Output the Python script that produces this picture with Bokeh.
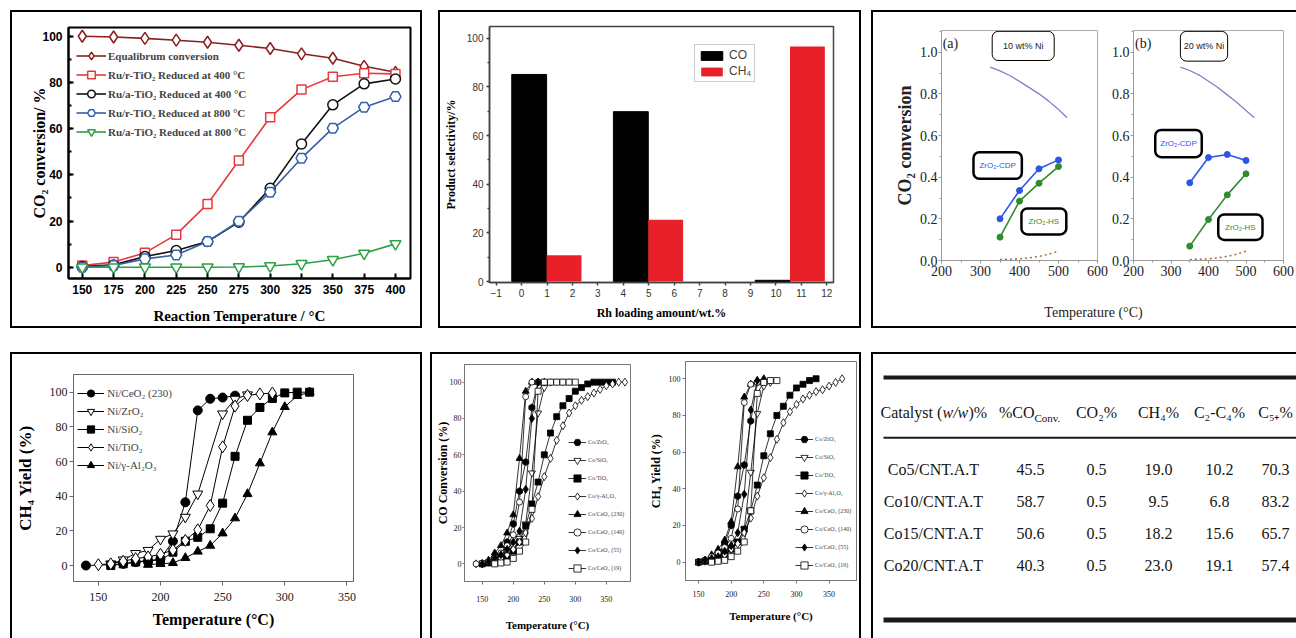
import numpy as np
from bokeh.plotting import figure
from bokeh.models import (Range1d, Legend, LegendItem, BoxAnnotation, Label, Spacer,
                          FixedTicker, SingleIntervalTicker, PrintfTickFormatter, Row, Column)
from bokeh.core.properties import value
from bokeh.embed import file_html
from bokeh.resources import INLINE

SERIF = "Liberation Serif"
SANS = "Liberation Sans"

# ---------------- data: panel 1 ----------------
p1_temp = [150, 175, 200, 225, 250, 275, 300, 325, 350, 375, 400]
p1_eq = [100.0, 99.7, 99.1, 98.3, 97.4, 96.1, 94.7, 92.4, 90.5, 87.0, 84.4]
p1_rr400 = [0.7, 2.2, 6.2, 14.1, 27.4, 46.2, 64.9, 76.9, 82.5, 84.0, 83.7]
p1_ra400 = [0.3, 1.0, 4.6, 7.2, 11.1, 19.5, 34.2, 53.4, 70.3, 79.4, 81.5]
p1_rr800 = [0.0, 0.7, 3.6, 5.3, 11.1, 19.9, 32.5, 47.2, 60.2, 69.3, 73.9]
p1_ra800 = [0.0, 0.0, 0.0, 0.0, 0.0, 0.1, 0.5, 1.5, 3.2, 6.0, 10.1]
p1_labels = ["Equalibrum conversion", "Ru/r-TiO₂ Reduced at 400 °C", "Ru/a-TiO₂ Reduced at 400 °C",
             "Ru/r-TiO₂ Reduced at 800 °C", "Ru/a-TiO₂ Reduced at 800 °C"]

# ---------------- data: panel 2 ----------------
p2_pos = [0.985, 4.98, 10.55]
p2_co = [85.1, 69.8, 0.5]
p2_ch4 = [10.8, 25.4, 96.6]
p2_xticks = list(range(-1, 13))

# ---------------- data: panel 3 ----------------
p3_eq_T = [325, 350, 375, 400, 425, 450, 475, 500, 522]
p3a_eq = [0.928, 0.91, 0.888, 0.86, 0.83, 0.80, 0.765, 0.725, 0.685]
p3b_eq = [0.928, 0.912, 0.89, 0.86, 0.83, 0.795, 0.76, 0.72, 0.685]
p3_T = [350, 400, 450, 500]
p3a_cdp = [0.20, 0.336, 0.44, 0.483]
p3a_hs = [0.112, 0.285, 0.371, 0.451]
p3b_cdp = [0.373, 0.494, 0.509, 0.48]
p3b_hs = [0.069, 0.197, 0.315, 0.416]
p3_dot_T = [350, 375, 400, 425, 450, 475, 500]
p3_dot = [0.005, 0.006, 0.008, 0.013, 0.02, 0.03, 0.045]

# ---------------- data: panel 4 ----------------
p4_ce_T = [140, 160, 170, 180, 190, 200, 210, 220, 230, 240, 250, 260]
p4_ce = [0, 0.5, 1, 2, 2.5, 4, 14, 36.5, 89.5, 96.2, 96.9, 98]
p4_zr_T = [160, 170, 180, 190, 200, 210, 220, 230, 250, 260, 270]
p4_zr = [1, 3.3, 7, 8.8, 15.2, 18.3, 27.9, 41.3, 87.5, 96, 98.5]
p4_si_T = [160, 170, 180, 190, 200, 210, 220, 230, 240, 250, 260, 270, 280, 290, 300, 310, 320]
p4_si = [0, 1, 2, 3, 3, 7.7, 14, 16.3, 21.2, 36, 63, 83.8, 91.2, 96.4, 99.6, 100, 100]
p4_ti_T = [150, 160, 170, 180, 190, 200, 210, 220, 230, 240, 250, 260, 270, 280, 290]
p4_ti = [0.5, 1, 2.5, 4, 5, 6.5, 9, 14.5, 20.6, 34.6, 68.5, 92, 98.1, 99, 99.5]
p4_al_T = [190, 200, 210, 220, 230, 240, 250, 260, 270, 280, 290, 300, 310, 320]
p4_al = [0.5, 1, 1.5, 4.4, 8.1, 11.5, 18.6, 27.3, 41.3, 59, 76.9, 91.5, 97.9, 100]

# ---------------- data: panel 5 ----------------
p5_labels = ["Co/ZrO₂", "Co/SiO₂", "Co/TiO₂", "Co/γ-Al₂O₃", "Co/CeO₂ (230)",
             "Co/CeO₂ (140)", "Co/CeO₂ (55)", "Co/CeO₂ (19)"]
# CO conversion
p5a_zr_T = [150, 160, 170, 180, 190, 200, 210, 220, 230, 240]
p5a_zr = [0, 1, 3, 5, 12, 22, 40, 56, 86, 100]
p5a_si_T = [160, 170, 180, 190, 200, 210, 220, 230, 240, 250, 260]
p5a_si = [1, 3, 5, 7, 10, 14, 22, 50, 83, 97, 100]
p5a_ti_T = [150, 160, 170, 180, 190, 200, 210, 220, 230, 240, 250, 260, 270, 280, 290, 300, 310, 320, 330, 340, 350, 360]
p5a_ti = [0, 0.5, 1, 2, 4, 7, 12, 21, 33, 45, 60, 72, 81, 87, 91, 95, 97, 99, 100, 100, 100, 100]
p5a_al_T = [140, 150, 160, 170, 180, 190, 200, 210, 220, 230, 240, 250, 260, 270, 280, 290, 300, 310, 320, 330, 340, 350, 360, 370, 380]
p5a_al = [0, 0, 1, 2, 3, 5, 8, 12, 17, 25, 37, 48, 58, 68, 76, 83, 87, 90, 92, 94, 96, 98, 99, 100, 100]
p5a_c230_T = [150, 160, 170, 180, 190, 200, 210, 220, 230, 240]
p5a_c230 = [0, 2, 6, 10, 17, 27, 58, 95, 100, 100]
p5a_c140_T = [140, 150, 160, 170, 180, 190, 200, 210, 220, 230, 240, 250, 260, 270, 280, 290]
p5a_c140 = [0, 0.5, 1, 3, 6, 10, 16, 34, 92, 100, 100, 100, 100, 100, 100, 100]
p5a_c55_T = [150, 160, 170, 180, 190, 200, 210, 220, 230, 240, 250]
p5a_c55 = [0, 1, 3, 5, 8, 12, 18, 41, 80, 100, 100]
p5a_c19_T = [170, 180, 190, 200, 210, 220, 230, 240, 250, 260, 270, 280, 290, 300]
p5a_c19 = [0, 0.5, 1, 3, 7, 12, 30, 95, 100, 100, 100, 100, 100, 100]
# CH4 yield
p5b_zr_T = [150, 160, 170, 180, 190, 200, 210, 220, 230, 240]
p5b_zr = [0, 1, 2, 4, 10, 20, 36, 53, 77, 98]
p5b_si_T = [160, 170, 180, 190, 200, 210, 220, 230, 240, 250, 260]
p5b_si = [1, 2, 4, 6, 8, 11, 18, 49, 81, 96, 98]
p5b_ti_T = [150, 160, 170, 180, 190, 200, 210, 220, 230, 240, 250, 260, 270, 280, 290, 300, 310, 320, 330]
p5b_ti = [0, 0.5, 1, 2, 4, 7, 11, 18, 28, 42, 58, 70, 80, 85, 91, 95, 97, 99, 100]
p5b_al_T = [150, 160, 170, 180, 190, 200, 210, 220, 230, 240, 250, 260, 270, 280, 290, 300, 310, 320, 330, 340, 350, 360, 370]
p5b_al = [0, 0.5, 1, 2, 4, 7, 10, 16, 24, 36, 46, 57, 67, 76, 82, 86, 89, 91, 93, 94, 96, 98, 100]
p5b_c230_T = [150, 160, 170, 180, 190, 200, 210, 220, 230, 240, 250]
p5b_c230 = [0, 1, 4, 7, 12, 22, 52, 90, 97, 99, 100]
p5b_c140_T = [150, 160, 170, 180, 190, 200, 210, 220, 230, 240, 250, 260]
p5b_c140 = [0, 1, 3, 5, 8, 13, 29, 87, 97, 98, 98, 99]
p5b_c55_T = [150, 160, 170, 180, 190, 200, 210, 220, 230, 240]
p5b_c55 = [0, 1, 2, 3, 6, 9, 16, 37, 83, 99]
p5b_c19_T = [170, 180, 190, 200, 210, 220, 230, 240, 250, 260, 270]
p5b_c19 = [0, 0.5, 1, 3, 6, 11, 28, 92, 98, 99, 99]

# ---------------- data: panel 6 (table) ----------------
tab_catalyst = ["Co5/CNT.A.T", "Co10/CNT.A.T", "Co15/CNT.A.T", "Co20/CNT.A.T"]
tab_coconv = ["45.5", "58.7", "50.6", "40.3"]
tab_co2 = ["0.5", "0.5", "0.5", "0.5"]
tab_ch4 = ["19.0", "9.5", "18.2", "23.0"]
tab_c2c4 = ["10.2", "6.8", "15.6", "19.1"]
tab_c5 = ["70.3", "83.2", "65.7", "57.4"]
tab_head_simple = ["CO₂%", "CH₄%", "C₂-C₄%", "C₅₊%"]


def bstyle(t=2, r=2, b=2, l=2):
    return {"border-style": "solid", "border-color": "black",
            "border-width": f"{t}px {r}px {b}px {l}px", "box-sizing": "content-box"}


def wrap(p, **kw):
    return Column(children=[p], **kw)


def mkfig(w, h, xr, yr, lb, rb, tb, bb):
    p = figure(width=w, height=h, x_range=Range1d(*xr), y_range=Range1d(*yr),
               output_backend="svg", toolbar_location=None,
               min_border_left=lb, min_border_right=rb, min_border_top=tb, min_border_bottom=bb)
    p.xgrid.visible = False
    p.ygrid.visible = False
    p.background_fill_color = "white"
    p.border_fill_color = "white"
    return p


def style_axis(ax, font, size, color="black", bold=False, tick_in=0, tick_out=4,
               minor_in=0, minor_out=0, standoff=4, line_color="black", line_width=1):
    ax.major_label_text_font = font
    ax.major_label_text_font_size = f"{size}px"
    ax.major_label_text_color = color
    ax.major_label_text_font_style = "bold" if bold else "normal"
    ax.major_tick_in = tick_in
    ax.major_tick_out = tick_out
    ax.minor_tick_in = minor_in
    ax.minor_tick_out = minor_out
    ax.major_label_standoff = standoff
    ax.axis_line_color = line_color
    ax.axis_line_width = line_width
    ax.major_tick_line_color = line_color
    ax.minor_tick_line_color = line_color
    ax.major_tick_line_width = line_width
    ax.minor_tick_line_width = line_width


def set_label(ax, text, font, size, bold, standoff, color="black"):
    ax.axis_label = text
    ax.axis_label_text_font = font
    ax.axis_label_text_font_size = f"{size}px"
    ax.axis_label_text_font_style = "bold" if bold else "normal"
    ax.axis_label_standoff = standoff
    ax.axis_label_text_color = color


# ======================= Panel 1 =======================
p1 = mkfig(408, 314, (139, 412), (-4.9, 103.8), 56, 10, 15, 48)
p1.outline_line_color = "black"
p1.outline_line_width = 2
p1.xaxis.ticker = FixedTicker(ticks=p1_temp)
p1.yaxis.ticker = SingleIntervalTicker(interval=20, num_minor_ticks=2)
style_axis(p1.xaxis[0], SANS, 12, bold=True, tick_in=5, tick_out=0, standoff=6, line_width=2)
style_axis(p1.yaxis[0], SANS, 12, bold=True, tick_in=5, tick_out=0, minor_in=3, standoff=6, line_width=2)
set_label(p1.xaxis[0], "Reaction Temperature / °C", SERIF, 15, True, 11)
set_label(p1.yaxis[0], "CO₂ conversion/ %", SERIF, 16, True, -9)

p1_series = [(p1_eq, "#8B1E1E", "diamond", 12), (p1_rr400, "#E8383D", "square", 9),
             (p1_ra400, "#111111", "circle", 10), (p1_rr800, "#3560A8", "hex", 11),
             (p1_ra800, "#2E9E47", "inverted_triangle", 11)]
items = []
for (vals, col, mk, sz), lab in zip(p1_series, p1_labels):
    l = p1.line(p1_temp, vals, line_color=col, line_width=1.6)
    s = p1.scatter(p1_temp, vals, marker=mk, size=sz, line_color=col, fill_color="white", line_width=1.5)
    items.append(LegendItem(label=lab, renderers=[l, s]))
lg1 = Legend(items=items, location=(8, 136.8), glyph_width=30, glyph_height=19, label_height=19,
             spacing=0, padding=5, margin=0, label_standoff=2, border_line_color=None,
             background_fill_alpha=0, label_text_font=SERIF, label_text_font_style="bold",
             label_text_font_size="11px")
p1.add_layout(lg1)
P1 = wrap(p1, styles=bstyle())

# ======================= Panel 2 =======================
p2 = mkfig(419, 314, (-1.26, 12.26), (-0.4, 104.8), 48, 26, 14, 44)
p2.outline_line_color = "#444444"
p2.outline_line_width = 1.5
p2.xaxis.ticker = FixedTicker(ticks=p2_xticks)
p2.yaxis.ticker = SingleIntervalTicker(interval=20, num_minor_ticks=2)
style_axis(p2.xaxis[0], SANS, 10, color="#333333", tick_out=3, standoff=3, line_color="#444444", line_width=1.5)
style_axis(p2.yaxis[0], SANS, 10, color="#333333", tick_out=3, minor_out=2, standoff=3, line_color="#444444", line_width=1.5)
set_label(p2.xaxis[0], "Rh loading amount/wt.%", SERIF, 12, True, 6)
set_label(p2.yaxis[0], "Product selectivity/%", SERIF, 12, True, 6)
bw = 1.37
r_co = p2.vbar(x=[c - bw / 2 for c in p2_pos], top=p2_co, width=bw, fill_color="black", line_color="black")
r_ch = p2.vbar(x=[c + bw / 2 for c in p2_pos], top=p2_ch4, width=bw, fill_color="#E8202A", line_color=None)
lg2 = Legend(items=[LegendItem(label="CO", renderers=[r_co]), LegendItem(label="CH₄", renderers=[r_ch])],
             location=(205, 200), glyph_width=27, glyph_height=11, label_height=13, spacing=2,
             padding=3, margin=0, label_standoff=4, border_line_color="#999999", border_line_width=1,
             background_fill_color="white", label_text_font=SANS, label_text_font_size="12px")
p2.add_layout(lg2)
P2 = wrap(p2, styles=bstyle())

# ======================= Panel 3 =======================
def p3_sub(w, lb, rb, eq, cdp, hs, ylab, tag, boxes):
    p = mkfig(w, 284, (200, 600), (0, 1.104), lb, rb, 18, 36)
    p.outline_line_color = "#aaaaaa"
    p.xaxis.ticker = SingleIntervalTicker(interval=100, num_minor_ticks=2)
    p.yaxis.ticker = SingleIntervalTicker(interval=0.2, num_minor_ticks=2)
    p.yaxis.formatter = PrintfTickFormatter(format="%.1f")
    style_axis(p.xaxis[0], SERIF, 14, color="#222222", tick_out=3, minor_out=2, standoff=2, line_color="#999999")
    style_axis(p.yaxis[0], SERIF, 14, color="#222222", tick_out=3, minor_out=2, standoff=1, line_color="#999999")
    if ylab:
        set_label(p.yaxis[0], ylab, SERIF, 18, True, 2, color="#222222")
    p.line(p3_eq_T, eq, line_color="#8C7CC4", line_width=1.3)
    p.line(p3_dot_T, p3_dot, line_color="#A0703C", line_width=1.5, line_dash="2 3")
    p.line(p3_T, cdp, line_color="#2B55E6", line_width=1.6)
    p.scatter(p3_T, cdp, marker="circle", size=6, fill_color="#2B55E6", line_color="#2B55E6")
    p.line(p3_T, hs, line_color="#2E8B2E", line_width=1.6)
    p.scatter(p3_T, hs, marker="circle", size=6, fill_color="#2E8B2E", line_color="#2E8B2E")
    for (l, r, b, t, lw, txt, col, fs) in boxes:
        p.add_layout(BoxAnnotation(left=l, right=r, bottom=b, top=t, fill_color="white", fill_alpha=1,
                                   line_color="black", line_alpha=1, line_width=lw, border_radius=6))
        p.add_layout(Label(x=(l + r) / 2, y=(b + t) / 2, text=txt, text_align="center", text_baseline="middle",
                           text_font=SANS, text_font_size=f"{fs}px", text_color=col))
    p.add_layout(Label(x=tag[1], y=1.042, text=tag[0], text_align="center", text_baseline="middle",
                       text_font=SERIF, text_font_size="14px", text_color="#222222"))
    return p

p3a = p3_sub(235, 68, 11, p3a_eq, p3a_cdp, p3a_hs, "CO₂ conversion", ("(a)", 223),
             [(330, 489, 0.96, 1.10, 1, "10 wt% Ni", "#222222", 9),
              (282, 406, 0.392, 0.52, 2.5, "ZrO₂-CDP", "#2B55E6", 8),
              (405, 520, 0.125, 0.25, 2.5, "ZrO₂-HS", "#2E8B2E", 8)])
p3b = p3_sub(188, 22, 13, p3b_eq, p3b_cdp, p3b_hs, None, ("(b)", 226),
             [(325, 451, 0.957, 1.10, 1, "20 wt% Ni", "#222222", 9),
              (258, 382, 0.496, 0.627, 2.5, "ZrO₂-CDP", "#2B55E6", 8),
              (426, 544, 0.099, 0.221, 2.5, "ZrO₂-HS", "#2E8B2E", 8)])
p3lab = figure(width=423, height=30, x_range=Range1d(0, 423), y_range=Range1d(0, 30),
               output_backend="svg", toolbar_location=None, min_border=0,
               x_axis_location=None, y_axis_location=None)
p3lab.grid.visible = False
p3lab.outline_line_color = None
p3lab.text(x=[220], y=[14.3], text=["Temperature (°C)"], text_align="center", text_baseline="middle",
           text_font=value(SERIF), text_font_size="14px", text_color="#222222")
P3 = Column(children=[Row(children=[wrap(p3a), wrap(p3b)]), wrap(p3lab)], styles=bstyle(r=0))

# ======================= Panel 4 =======================
p4 = mkfig(408, 284, (130, 355.3), (-9.2, 110.2), 60, 67, 20, 57)
p4.outline_line_color = "#666666"
p4.xaxis.ticker = SingleIntervalTicker(interval=50, num_minor_ticks=0)
p4.yaxis.ticker = FixedTicker(ticks=[0, 20, 40, 60, 80, 100])
style_axis(p4.xaxis[0], SERIF, 12, color="#222222", tick_out=4, standoff=7, line_color="#666666")
style_axis(p4.yaxis[0], SERIF, 12, color="#222222", tick_out=4, standoff=2, line_color="#666666")
set_label(p4.xaxis[0], "Temperature (°C)", SERIF, 16, True, 7)
set_label(p4.yaxis[0], "CH₄ Yield (%)", SERIF, 17, True, 12)
p4_series = [(p4_ce_T, p4_ce, "circle", "black", 9, "Ni/CeO₂ (230)"),
             (p4_zr_T, p4_zr, "inverted_triangle", "white", 10, "Ni/ZrO₂"),
             (p4_si_T, p4_si, "square", "black", 8, "Ni/SiO₂"),
             (p4_ti_T, p4_ti, "diamond", "white", 12, "Ni/TiO₂"),
             (p4_al_T, p4_al, "triangle", "black", 9, "Ni/γ-Al₂O₃")]
items = []
for xs, ys, mk, fc, sz, lab in p4_series:
    l = p4.line(xs, ys, line_color="black", line_width=1)
    s = p4.scatter(xs, ys, marker=mk, size=sz, fill_color=fc, line_color="black", line_width=1)
    items.append(LegendItem(label=lab, renderers=[l, s]))
lg4 = Legend(items=items, location=(4.3, 107), glyph_width=27, glyph_height=18, label_height=18,
             spacing=0, padding=4, margin=0, label_standoff=3, border_line_color=None,
             background_fill_alpha=0, label_text_font=SERIF, label_text_font_size="11px")
p4.add_layout(lg4)
P4 = wrap(p4, styles=bstyle(b=0))

# ======================= Panel 5 =======================
markers5 = [("hex", "black", 7), ("inverted_triangle", "white", 7), ("square", "black", 6),
            ("diamond", "white", 8), ("triangle", "black", 7), ("circle", "white", 6),
            ("diamond", "black", 8), ("square", "white", 6)]

def p5_sub(w, xr, yr, lb, rb, tb, bb, series, ylab, xstand, ystand, tout, xls, yls, legloc):
    p = mkfig(w, 284, xr, yr, lb, rb, tb, bb)
    p.outline_line_color = "#777777"
    p.xaxis.ticker = SingleIntervalTicker(interval=50, num_minor_ticks=0)
    p.yaxis.ticker = FixedTicker(ticks=[0, 20, 40, 60, 80, 100])
    style_axis(p.xaxis[0], SERIF, 8, color="#222222", tick_out=3, standoff=xstand, line_color="#777777")
    style_axis(p.yaxis[0], SERIF, 8, color="#222222", tick_out=tout, standoff=ystand, line_color="#777777")
    set_label(p.xaxis[0], "Temperature (°C)", SERIF, 11, True, xls)
    set_label(p.yaxis[0], ylab, SERIF, 12, True, yls)
    its = []
    for (xs, ys), (mk, fc, sz), lab in zip(series, markers5, p5_labels):
        l = p.line(xs, ys, line_color="black", line_width=0.8)
        s = p.scatter(xs, ys, marker=mk, size=sz, fill_color=fc, line_color="black", line_width=0.8,
                      angle=(np.pi / 2 if mk == "hex" else 0))
        its.append(LegendItem(label=lab, renderers=[l, s]))
    lg = Legend(items=its, location=legloc, glyph_width=18, glyph_height=18, label_height=18,
                spacing=0, padding=2, margin=0, label_standoff=2, border_line_color=None,
                background_fill_alpha=0, label_text_font=SERIF, label_text_font_size="6px")
    p.add_layout(lg)
    return p

p5a = p5_sub(213, (121.3, 389), (-9.7, 109.7), 26, 15, 10, 57,
             [(p5a_zr_T, p5a_zr), (p5a_si_T, p5a_si), (p5a_ti_T, p5a_ti), (p5a_al_T, p5a_al),
              (p5a_c230_T, p5a_c230), (p5a_c140_T, p5a_c140), (p5a_c55_T, p5a_c55), (p5a_c19_T, p5a_c19)],
             "CO Conversion (%)", 11, 1, 2, 14, -3, (104, 4))
p5b = p5_sub(214, (130, 392), (-10, 109.4), 37, 3, 7, 58,
             [(p5b_zr_T, p5b_zr), (p5b_si_T, p5b_si), (p5b_ti_T, p5b_ti), (p5b_al_T, p5b_al),
              (p5b_c230_T, p5b_c230), (p5b_c140_T, p5b_c140), (p5b_c55_T, p5b_c55), (p5b_c19_T, p5b_c19)],
             "CH₄ Yield (%)", 7, 2, 3, 10, 3, (110, 6.3))
P5 = Row(children=[wrap(p5a), wrap(p5b)], styles=bstyle(b=0))

# ======================= Panel 6 (table) =======================
p6 = figure(width=423, height=284, x_range=Range1d(0, 423), y_range=Range1d(5.27, -3.60),
            output_backend="svg", toolbar_location=None, min_border=0,
            x_axis_location=None, y_axis_location=None)
p6.grid.visible = False
p6.outline_line_color = None
col_x = [60, 157, 223, 285, 346, 402]
rows = list(range(len(tab_catalyst)))
tfont = value(SERIF)
for j, colvals in enumerate([tab_catalyst, tab_coconv, tab_co2, tab_ch4, tab_c2c4, tab_c5]):
    p6.text(x=[col_x[j]] * len(colvals), y=rows, text=colvals, text_align="center", text_baseline="middle",
            text_font=tfont, text_font_size="16px", text_color="#151515")
hy = -1.8
p6.text(x=[col_x[0]], y=[hy], text=["Catalyst ("], x_offset=-53, text_align="left", text_baseline="middle",
        text_font=tfont, text_font_size="16px", text_color="#151515")
p6.text(x=[col_x[0]], y=[hy], text=["w/w"], x_offset=9, text_align="left", text_baseline="middle",
        text_font=tfont, text_font_style="italic", text_font_size="16px", text_color="#151515")
p6.text(x=[col_x[0]], y=[hy], text=[")%"], x_offset=35, text_align="left", text_baseline="middle",
        text_font=tfont, text_font_size="16px", text_color="#151515")
p6.text(x=[col_x[1]], y=[hy], text=["%CO"], x_offset=4, text_align="right", text_baseline="middle",
        text_font=tfont, text_font_size="16px", text_color="#151515")
p6.text(x=[col_x[1]], y=[hy], text=["Conv."], x_offset=4, y_offset=6, text_align="left", text_baseline="middle",
        text_font=tfont, text_font_size="11px", text_color="#151515")
p6.text(x=col_x[2:], y=[hy] * 4, text=tab_head_simple, text_align="center", text_baseline="middle",
        text_font=tfont, text_font_size="16px", text_color="#151515")
p6.segment(x0=[10, 10, 10], y0=[-2.88, -1.0, 4.69], x1=[430, 430, 430], y1=[-2.88, -1.0, 4.69],
           line_color="#1a1a1a", line_width=[4, 1.8, 5])
P6 = wrap(p6, styles=bstyle(r=0, b=0))

# ======================= layout =======================
top = Row(children=[Spacer(width=10, height=318), P1, Spacer(width=16, height=318), P2,
                    Spacer(width=10, height=318), P3])
bot = Row(children=[Spacer(width=10, height=286), P4, Spacer(width=8, height=286), P5,
                    Spacer(width=10, height=286), P6])
root = Column(children=[Spacer(width=1296, height=10), top, Spacer(width=1296, height=24), bot])

open("out.html", "w").write(file_html(root, INLINE))
